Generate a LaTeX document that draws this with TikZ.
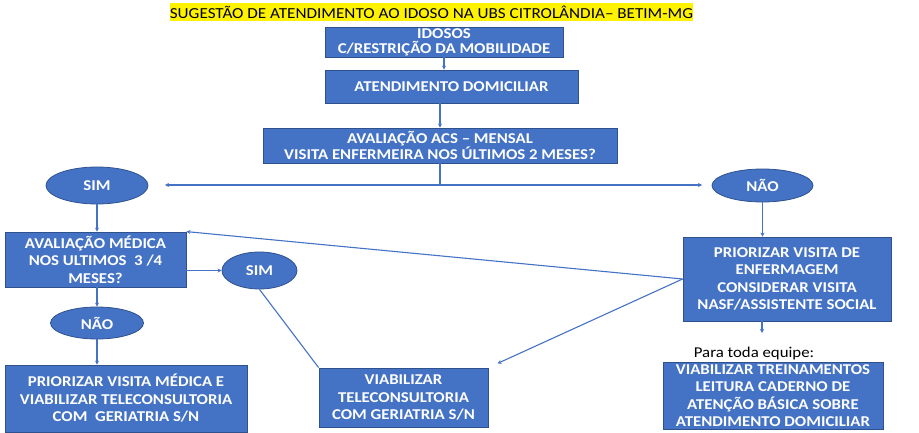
\documentclass[tikz,border=0pt]{standalone}
\usepackage{fontspec}
\setmainfont{Carlito}[FakeStretch=1.12]
\usetikzlibrary{arrows.meta,shapes.geometric}
\definecolor{ofblue}{HTML}{4472C4}
\definecolor{ofedge}{HTML}{2F528F}
\tikzset{
  box/.style={draw=ofedge, line width=0.8pt, fill=ofblue, text=white, align=center,
    inner sep=0pt, font=\fontsize{15}{17.5}\selectfont\bfseries},
  oval/.style={ellipse, draw=ofedge, line width=0.8pt, fill=ofblue, text=white,
    inner sep=0pt, font=\fontsize{15}{17.5}\selectfont\bfseries},
  link/.style={draw=ofblue, line width=1.1pt},
  flow/.style={link, -{Stealth[length=4pt,width=4pt]}}
}
\begin{document}
\begin{tikzpicture}[x=1pt,y=-1pt]
	\useasboundingbox (0,0) rectangle (919,433);

	% title
	\node[fill=yellow, inner sep=0pt, minimum height=18, font=\fontsize{15.3}{16}\selectfont] (title) at (431.5,12)
	  {SUGESTÃO DE ATENDIMENTO AO IDOSO NA UBS CITROLÂNDIA– BETIM-MG};

	% main column
	\node[box, minimum width=238, minimum height=30, font=\fontsize{15}{15}\selectfont\bfseries] (idosos) at (444,42)
	  {IDOSOS\\C/RESTRIÇÃO DA MOBILIDADE};
	\node[box, minimum width=253, minimum height=33] (atend) at (451.5,86.5) {ATENDIMENTO DOMICILIAR};
	\node[box, minimum width=354, minimum height=35, font=\fontsize{15}{16}\selectfont\bfseries] (acs) at (440,145.5)
	  {AVALIAÇÃO ACS – MENSAL\\VISITA ENFERMEIRA NOS ÚLTIMOS 2 MESES?};

	\node[oval, minimum width=102, minimum height=37] (sim1) at (97,185.5) {SIM};
	\node[oval, minimum width=101, minimum height=33] (nao1) at (762.5,185.5) {NÃO};

	% left branch
	\node[box, minimum width=181, minimum height=55] (avalmed) at (95.5,259.5)
	  {AVALIAÇÃO MÉDICA\\NOS ULTIMOS\ \ 3 /4\\MESES?};
	\node[oval, minimum width=75, minimum height=37] (sim2) at (259.5,270.5) {SIM};
	\node[oval, minimum width=93, minimum height=32] (nao2) at (97,323) {NÃO};
	\node[box, minimum width=242, minimum height=67] (priormed) at (126,398.5)
	  {PRIORIZAR VISITA MÉDICA E\\VIABILIZAR TELECONSULTORIA\\COM\ \ GERIATRIA S/N};
	\node[box, minimum width=169, minimum height=59] (viab) at (403.5,397.5)
	  {VIABILIZAR\\TELECONSULTORIA\\COM GERIATRIA S/N};

	% right branch
	\node[box, minimum width=208, minimum height=84] (priorenf) at (787,279)
	  {PRIORIZAR VISITA DE\\ENFERMAGEM\\CONSIDERAR VISITA\\NASF/ASSISTENTE SOCIAL};
	\node[font=\fontsize{15}{17}\selectfont, inner sep=0pt] (para) at (754,353) {Para toda equipe:};
	\node[box, minimum width=220, minimum height=67] (trein) at (773,395.5)
	  {VIABILIZAR TREINAMENTOS\\LEITURA CADERNO DE\\ATENÇÃO BÁSICA SOBRE\\ATENDIMENTO DOMICILIAR};

	\coordinate (split) at (440,185);
	\coordinate (leftend) at (165,185);
	\coordinate (rightend) at (702,185);
	\coordinate (trainin) at (762,333);

	% connectors
	\draw[flow] (idosos.south) -- (idosos.south |- atend.north);
	\draw[flow] (acs.north |- atend.south) -- (acs.north);
	\draw[link] (acs.south) -- (split);
	\draw[flow] (split) -- (leftend);
	\draw[flow] (split) -- (rightend);
	\draw[flow] (sim1.south) -- (sim1.south |- avalmed.north);
	\draw[flow] (avalmed.east |- sim2.west) -- (sim2.west);
	\draw[link] (sim2.south) -- (viab.north west);
	\draw[flow] (avalmed.south -| nao2.north) -- (nao2.north);
	\draw[flow] (nao2.south) -- (nao2.south |- priormed.north);
	\draw[flow] (nao1.south) -- (nao1.south |- priorenf.north);
	\draw[flow] (priorenf.west) -- (avalmed.north east);
	\draw[flow, shorten >=10pt] (priorenf.west) -- (viab.north east);
	\draw[flow] (priorenf.south -| trainin) -- (trainin);
\end{tikzpicture}
\end{document}
